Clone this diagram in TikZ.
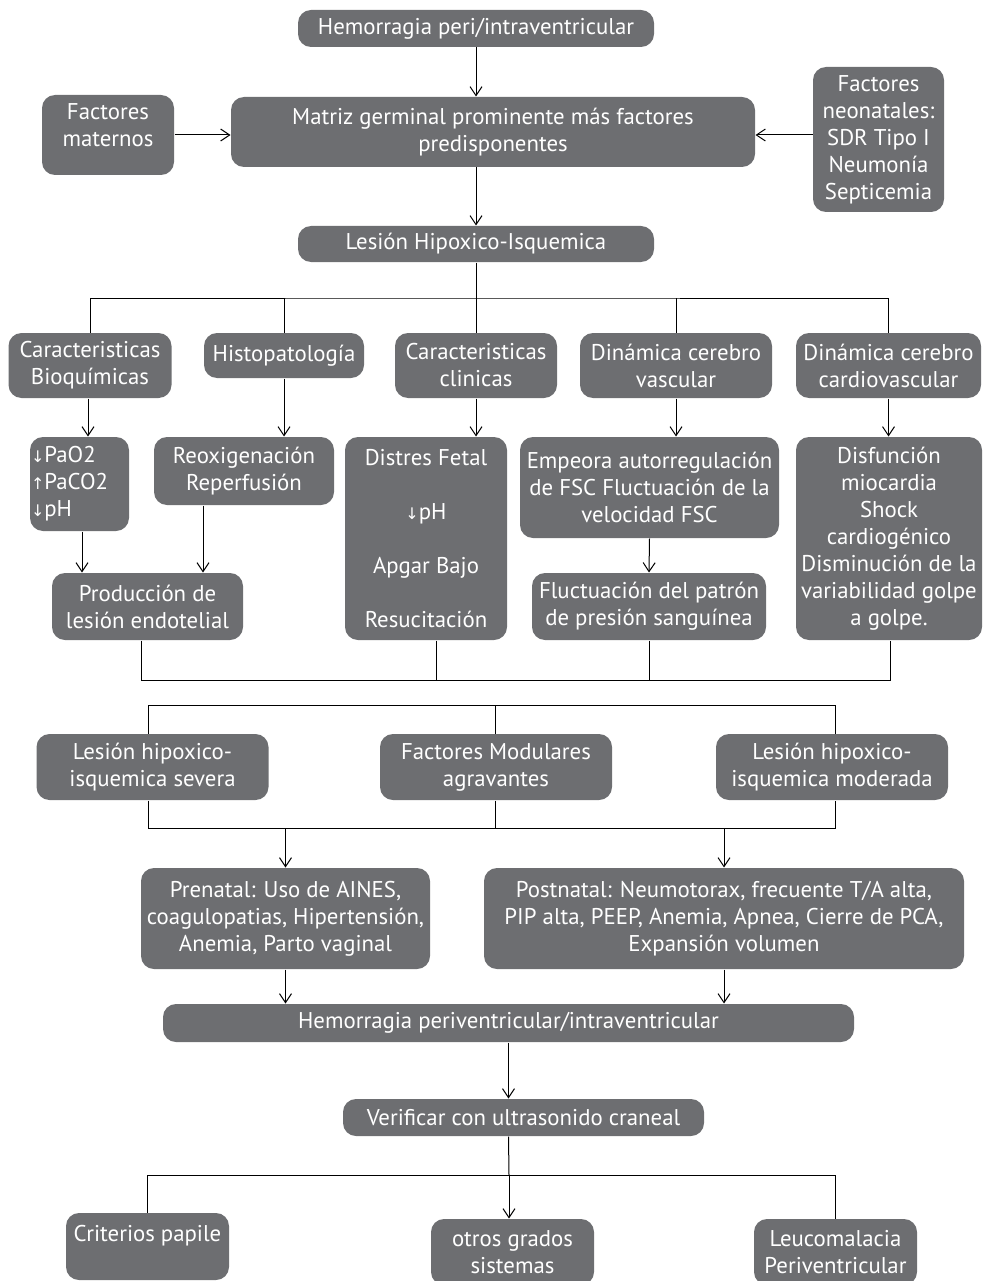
\documentclass[tikz,border=0pt]{standalone}
\usepackage{fontspec}
\setmainfont{PT Sans}
\newfontfamily\arrowfont{DejaVu Sans}
\usetikzlibrary{arrows.meta}
\definecolor{boxgray}{RGB}{109,110,113}
\newcommand{\dn}{{\arrowfont\fontsize{16}{27}\selectfont ↓}}
\newcommand{\up}{{\arrowfont\fontsize{16}{27}\selectfont ↑}}

\tikzset{
  box/.style={fill=boxgray, text=white, rounded corners=13pt, align=center,
              inner sep=0pt, font=\fontsize{22.8}{27}\selectfont},
  arr/.style={-{Straight Barb[length=9pt,width=12pt]}}
}

\begin{document}
\begin{tikzpicture}[x=1pt,y=-1pt,line width=1pt]
   \useasboundingbox (0,0) rectangle (983,1281);
   \clip (0,0) rectangle (983,1281);
   % top part
   \node[box, minimum width=356, minimum height=37] (top) at (476,28.5) {Hemorragia peri/intraventricular};
   \node[box, minimum width=132, minimum height=80] (maternos) at (108,135) {Factores\\maternos\rule[-20pt]{0pt}{0pt}};
   \node[box, minimum width=524, minimum height=70] (matriz) at (493,132) {Matriz germinal prominente más factores\\predisponentes};
   \node[box, minimum width=131, minimum height=145] (neonat) at (878.5,139.5) {Factores\\neonatales:\\SDR Tipo I\\Neumonía\\Septicemia};
   \node[box, minimum width=356, minimum height=36] (lesion) at (476,244) {Lesión Hipoxico-Isquemica};
   \draw[arr] (top.south) -- (top.south |- matriz.north);
   \draw[arr] (maternos.east) -- (maternos.east -| matriz.west);
   \draw[arr] (neonat.west |- maternos.east) -- (maternos.east -| matriz.east);
   \draw[arr] (lesion.north |- matriz.south) -- (lesion.north);

   % five branches
   \node[box, minimum width=163, minimum height=65] (bioq) at (90,365.5) {Caracteristicas\\Bioquímicas};
   \node[box, minimum width=160, minimum height=45] (histo) at (284,355.5) {Histopatología};
   \node[box, minimum width=162, minimum height=65] (clin) at (476,365.5) {Caracteristicas\\clinicas};
   \node[box, minimum width=192, minimum height=65] (dincv) at (676,365.5) {Dinámica cerebro\\vascular};
   \node[box, minimum width=185, minimum height=65] (dincard) at (888.5,365.5) {Dinámica cerebro\\cardiovascular};
   \coordinate (bar) at (476,298);
   \draw (lesion.south) -- (bar);
   \draw (bioq.north) |- (bar) -| (dincard.north);
   \foreach \n in {histo,clin,dincv}
      \draw (\n.north) -- (\n.north |- bar);

   \node[box, minimum width=99, minimum height=94, text width=97, align=left] (gases) at (79.5,484) {\dn PaO2\\\up PaCO2\\\dn pH};
   \node[box, minimum width=180, minimum height=68] (reox) at (244,471) {Reoxigenación\\Reperfusión};
   \node[box, minimum width=162, minimum height=203] (distres) at (426,538.5) {Distres Fetal\\ \\\dn pH\\ \\Apgar Bajo\\ \\Resucitación};
   \node[box, minimum width=259, minimum height=101] (empeora) at (649.5,487.5) {Empeora autorregulación\\de FSC Fluctuación de la\\velocidad FSC};
   \node[box, minimum width=186, minimum height=203] (disf) at (889,538.5) {Disfunción\\miocardia\\Shock\\cardiogénico\\Disminución de la\\variabilidad golpe\\a golpe.};
   \node[box, minimum width=191, minimum height=67] (prod) at (147.5,606.5) {Producción de\\lesión endotelial};
   \node[box, minimum width=234, minimum height=67] (fluct) at (649,606.5) {Fluctuación del patrón\\de presión sanguínea};
   \draw[arr] (bioq.south -| 88,0) -- (gases.north -| 88,0);
   \draw[arr] (histo.south) -- (histo.south |- reox.north);
   \draw[arr] (clin.south) -- (clin.south |- distres.north);
   \draw[arr] (dincv.south) -- (dincv.south |- empeora.north);
   \draw[arr] (dincard.south) -- (dincard.south |- disf.north);
   \draw[arr] (gases.south -| 82,0) -- (prod.north -| 82,0);
   \draw[arr] (reox.south -| 203,0) -- (prod.north -| 203,0);
   \draw[arr] (empeora.south) -- (fluct.north);
   \coordinate (join) at (0,680);
   \draw (prod.south -| 141,0) |- (join -| 890,0) -- (disf.south -| 890,0);
   \draw (distres.south -| 436,0) -- (join -| 436,0);
   \draw (fluct.south) -- (fluct.south |- join);

   % modulating factors
   \node[box, minimum width=232, minimum height=66] (severa) at (152.5,767) {Lesión hipoxico-\\isquemica severa};
   \node[box, minimum width=232, minimum height=66] (modul) at (496,767) {Factores Modulares\\agravantes};
   \node[box, minimum width=232, minimum height=66] (moder) at (832,767) {Lesión hipoxico-\\isquemica moderada};
   \coordinate (btop) at (0,705);
   \coordinate (bbot) at (0,828);
   \draw (severa.north -| 148,0) |- (btop -| 835,0) -- (moder.north -| 835,0);
   \draw (modul.north -| 495,0) -- (btop -| 495,0);
   \draw (severa.south -| 148,0) |- (bbot -| 835,0) -- (moder.south -| 835,0);
   \draw (modul.south -| 495,0) -- (bbot -| 495,0);

   \node[box, minimum width=289, minimum height=101] (pre) at (285.5,918.5) {Prenatal: Uso de AINES,\\coagulopatias, Hipertensión,\\Anemia, Parto vaginal};
   \node[box, minimum width=480, minimum height=101] (post) at (724,918.5) {Postnatal: Neumotorax, frecuente T/A alta,\\PIP alta, PEEP, Anemia, Apnea, Cierre de PCA,\\Expansión volumen};
   \draw[arr] (pre.north |- bbot) -- (pre.north);
   \draw[arr] (post.north |- bbot) -- (post.north);

   \node[box, minimum width=691, minimum height=38] (hem) at (508.5,1023) {Hemorragia periventricular/intraventricular};
   \draw[arr] (pre.south) -- (pre.south |- hem.north);
   \draw[arr] (post.south) -- (post.south |- hem.north);

   \node[box, minimum width=361, minimum height=37] (verif) at (523.5,1117.5) {Verificar con ultrasonido craneal};
   \draw[arr] (hem.south) -- (hem.south |- verif.north);

   % bottom classification
   \node[box, minimum width=163, minimum height=67] (papile) at (147.5,1246.5) {Criterios papile\\ \mbox{}};
   \node[box, minimum width=163, minimum height=66] (otros) at (512.5,1252) {otros grados\\sistemas};
   \node[box, minimum width=163, minimum height=66] (leuco) at (835.5,1252) {Leucomalacia\\Periventricular};
   \coordinate (vt) at (509,1175);
   \draw (hem.south |- verif.south) -- (vt);
   \draw (papile.north) |- (vt) -| (leuco.north);
   \draw[arr] (vt) -- (vt |- otros.north);
\end{tikzpicture}
\end{document}
